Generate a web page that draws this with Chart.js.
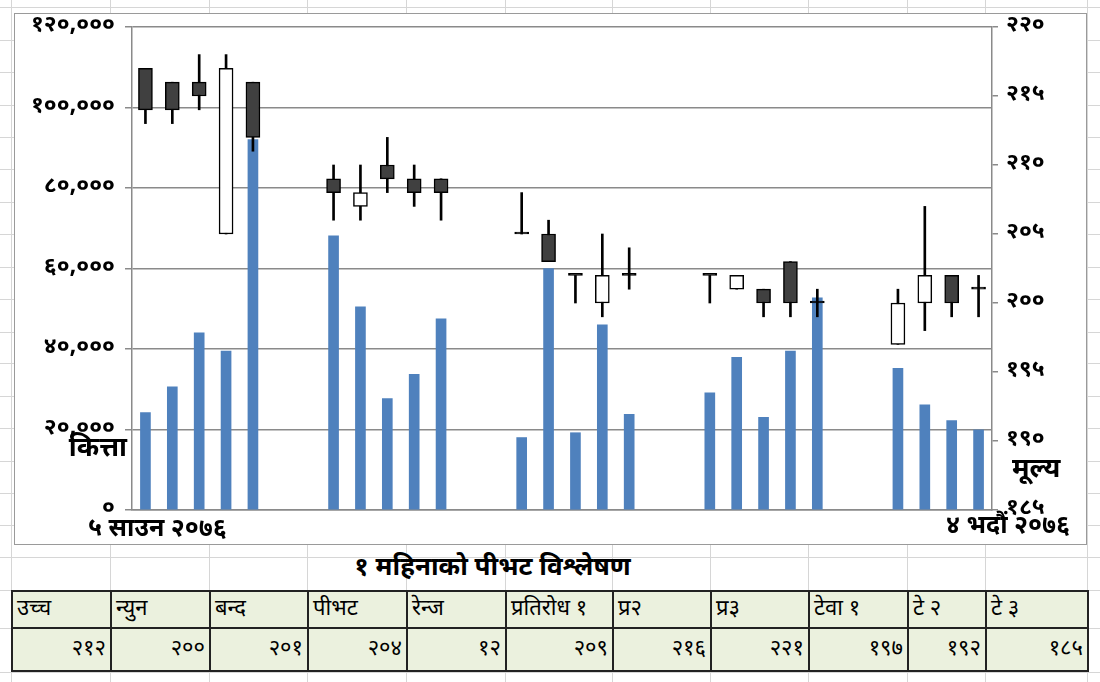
<!DOCTYPE html>
<html>
<head>
<meta charset="utf-8">
<script src="https://cdn.jsdelivr.net/npm/chart.js@4.4.1/dist/chart.umd.min.js"></script>
<style>
  html, body { margin: 0; padding: 0; }
  body {
    width: 1100px; height: 682px; position: relative; overflow: hidden; background: #fff;
    font-family: 'Noto Sans Devanagari', 'Noto Sans', sans-serif;
  }
  .gl { position: absolute; background: #d6d6d6; }
  #frame {
    position: absolute; left: 14px; top: 13px; width: 1071px; height: 530px;
    border: 1px solid #9a9a9a; background: #fff;
  }
  #title {
    position: absolute; left: 0; width: 985px; top: 551px; text-align: center;
    font-weight: bold; font-size: 26px; line-height: 36px;
  }
  table {
    position: absolute; left: 11px; top: 590px; border-collapse: collapse;
    table-layout: fixed; background: #ebf1de;
  }
  td { border: 2px solid #222; font-size: 22px; padding: 0 4px; white-space: nowrap; overflow: hidden; line-height: 30px; }
  tr.head td { height: 35px; text-align: left; }
  tr.vals td { height: 41px; text-align: right; }
</style>
</head>
<body>
<div id="frame"><canvas id="c" width="1071" height="530"></canvas></div>
<div id="title">१ महिनाको पीभट विश्लेषण</div>
<table id="tbl"><colgroup id="cols"></colgroup><tr class="head" id="hrow"></tr><tr class="vals" id="vrow"></tr></table>
<script>
// trading days, 5 Saun to 4 Bhadau 2076 (Fri/Sat slots left empty)
const dayLabels = [
  '५ साउन', '६ साउन', '७ साउन', '८ साउन', '९ साउन', '१० साउन', '११ साउन',
  '१२ साउन', '१३ साउन', '१४ साउन', '१५ साउन', '१६ साउन', '१७ साउन', '१८ साउन',
  '१९ साउन', '२० साउन', '२१ साउन', '२२ साउन', '२३ साउन', '२४ साउन', '२५ साउन',
  '२६ साउन', '२७ साउन', '२८ साउन', '२९ साउन', '३० साउन', '३१ साउन', '३२ साउन',
  '१ भदौं', '२ भदौं', '३ भदौं', '४ भदौं'
];

const openPrice  = [217, 216, 216, 205, 216, null, null, 209, 207, 210, 209, 209, null, null, 205, 205, 202, 200, 202, null, null, 202, 201, 201, 203, 200, null, null, 197, 200, 202, 201];
const closePrice = [214, 214, 215, 217, 212, null, null, 208, 208, 209, 208, 208, null, null, 205, 203, 202, 202, 202, null, null, 202, 202, 200, 200, 200, null, null, 200, 202, 200, 201];
const highPrice  = [217, 216, 218, 218, 216, null, null, 210, 210, 212, 210, 209, null, null, 208, 206, 202, 205, 204, null, null, 202, 202, 201, 203, 201, null, null, 201, 207, 202, 202];
const lowPrice   = [213, 213, 214, 205, 211, null, null, 206, 206, 208, 207, 206, null, null, 205, 203, 200, 199, 201, null, null, 200, 201, 199, 199, 199, null, null, 197, 198, 199, 199];
const volume     = [24200, 30600, 44000, 39500, 92000, null, null, 68100, 50500, 27700, 33700, 47500, null, null, 18000, 60000, 19200, 46000, 23800, null, null, 29100, 37900, 23000, 39500, 52700, null, null, 35200, 26100, 22200, 19900];

const volTicks = [0, 20000, 40000, 60000, 80000, 100000, 120000];
const priceTicks = [185, 190, 195, 200, 205, 210, 215, 220];

const tableHead = ['उच्च', 'न्युन', 'बन्द', 'पीभट', 'रेन्ज', 'प्रतिरोध १', 'प्र२', 'प्र३', 'टेवा १', 'टे २', 'टे ३'];
const tableVals = ['२१२', '२००', '२०१', '२०४', '१२', '२०९', '२१६', '२२१', '१९७', '१९२', '१८५'];

// spreadsheet look
const sheetCols = [11, 110, 209, 307, 406, 505, 612, 710, 808, 907, 985, 1087];
const sheetRows = [7, 40, 72, 105, 137, 169, 202, 234, 267, 299, 332, 363, 396, 428, 461, 493, 525, 557, 590, 628, 672];
sheetCols.forEach(x => {
  const d = document.createElement('div');
  d.className = 'gl';
  d.style.cssText = `left:${x}px;top:0;width:1px;height:682px`;
  document.body.insertBefore(d, document.body.firstChild);
});
sheetRows.forEach(y => {
  const d = document.createElement('div');
  d.className = 'gl';
  d.style.cssText = `left:0;top:${y}px;width:1100px;height:1px`;
  document.body.insertBefore(d, document.body.firstChild);
});

// table
const cols = document.getElementById('cols');
for (let i = 0; i < tableHead.length; i++) {
  const c = document.createElement('col');
  c.style.width = (sheetCols[i + 1] - sheetCols[i]) + 'px';
  cols.appendChild(c);
  const h = document.createElement('td'); h.textContent = tableHead[i];
  document.getElementById('hrow').appendChild(h);
  const v = document.createElement('td'); v.textContent = tableVals[i];
  document.getElementById('vrow').appendChild(v);
}

const devDigits = '०१२३४५६७८९';
function toDev(s) {
  return String(s).replace(/[0-9]/g, d => devDigits[d]);
}

const fam = "'Noto Sans Devanagari', 'Noto Sans', sans-serif";
const gridGray = '#8a8a8a';

const wickData = dayLabels.map((_, i) => highPrice[i] == null ? null : [lowPrice[i], highPrice[i]]);
const bodyData = dayLabels.map((_, i) => openPrice[i] == null ? null : [openPrice[i], closePrice[i]]);
const bodyFill = dayLabels.map((_, i) => {
  if (openPrice[i] == null) return '#000';
  if (closePrice[i] < openPrice[i]) return '#404040';
  if (closePrice[i] > openPrice[i]) return '#ffffff';
  return '#000';
});

// axis captions and the two end dates
const captions = {
  id: 'captions',
  afterDraw(chart) {
    const { ctx, chartArea: a } = chart;
    ctx.save();
    ctx.fillStyle = '#000';
    ctx.textBaseline = 'middle';
    ctx.font = 'bold 27px ' + fam;
    ctx.textAlign = 'right';
    ctx.fillText('कित्ता', a.left - 5, a.bottom - 59);
    ctx.textAlign = 'left';
    ctx.fillText('मूल्य', a.right + 20, a.bottom - 38);
    ctx.font = 'bold 25px ' + fam;
    ctx.fillText(dayLabels[0] + ' २०७६', a.left - 44, a.bottom + 21);
    ctx.textAlign = 'right';
    ctx.fillText(dayLabels[dayLabels.length - 1] + ' २०७६', a.right + 78, a.bottom + 18);
    ctx.restore();
  }
};

// keep the plot box where the sheet has it: no extra room for half labels
function fixVertical(s, w) {
  s.width = w;
  s.paddingTop = 13;
  s.paddingBottom = 0;
}

new Chart(document.getElementById('c'), {
  type: 'bar',
  data: {
    labels: dayLabels,
    datasets: [
      {
        label: 'कित्ता',
        data: volume,
        yAxisID: 'yVol',
        backgroundColor: '#4f81bd',
        barThickness: 10,
        grouped: false,
        order: 3
      },
      {
        label: 'wick',
        data: wickData,
        yAxisID: 'yPrice',
        backgroundColor: '#000',
        barThickness: 2,
        grouped: false,
        order: 2
      },
      {
        label: 'मूल्य',
        data: bodyData,
        yAxisID: 'yPrice',
        backgroundColor: bodyFill,
        borderColor: '#000',
        borderWidth: 1.5,
        borderSkipped: false,
        barThickness: 14,
        minBarLength: 2,
        grouped: false,
        order: 1
      }
    ]
  },
  options: {
    responsive: false,
    animation: false,
    layout: { padding: 0 },
    plugins: { legend: { display: false }, tooltip: { enabled: false } },
    scales: {
      x: {
        type: 'category',
        offset: true,
        grid: { display: false, drawTicks: false },
        border: { display: true, color: gridGray, width: 1.5 },
        ticks: { display: false },
        afterFit: s => { s.height = 34; s.paddingLeft = 0; s.paddingRight = 0; }
      },
      yVol: {
        position: 'left',
        min: volTicks[0],
        max: volTicks[volTicks.length - 1],
        afterBuildTicks: s => { s.ticks = volTicks.map(v => ({ value: v })); },
        ticks: {
          callback: v => toDev(Number(v).toLocaleString('en-US')),
          color: '#000',
          padding: 10,
          font: { family: fam, size: 23, weight: 'bold' }
        },
        grid: { color: gridGray, lineWidth: 1.5, tickLength: 7 },
        border: { color: gridGray, width: 1.5 },
        afterFit: s => fixVertical(s, 117)
      },
      yPrice: {
        position: 'right',
        min: priceTicks[0],
        max: priceTicks[priceTicks.length - 1],
        afterBuildTicks: s => { s.ticks = priceTicks.map(v => ({ value: v })); },
        ticks: {
          callback: v => toDev(v),
          color: '#000',
          padding: 8,
          font: { family: fam, size: 23, weight: 'bold' }
        },
        grid: { drawOnChartArea: false, color: gridGray, lineWidth: 1.5, tickLength: 6 },
        border: { color: gridGray, width: 1.5 },
        afterFit: s => fixVertical(s, 94)
      }
    }
  },
  plugins: [captions]
});
</script>
</body>
</html>
